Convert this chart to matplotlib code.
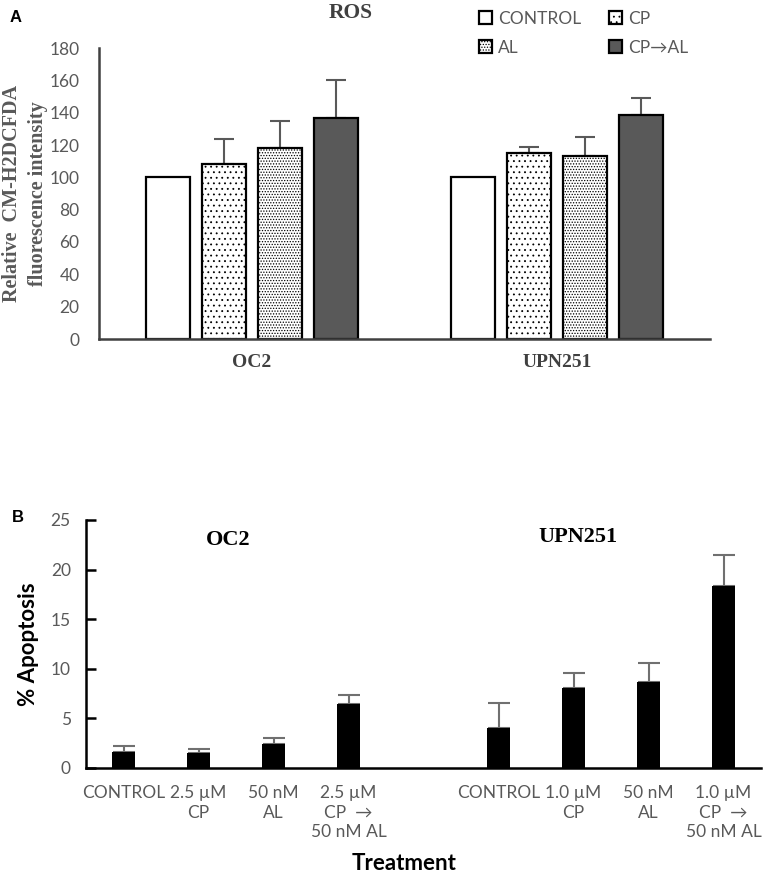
import matplotlib
matplotlib.use("Agg")
import matplotlib.pyplot as plt
import numpy as np

# ---------------- Data ----------------
# Panel A: ROS
ros_cells = ["OC2", "UPN251"]
ros_series = ["CONTROL", "CP", "AL", "CP\u2192AL"]
ros_control = [100, 100]
ros_cp = [108, 115]
ros_al = [118, 113]
ros_cpal = [137, 138.5]
ros_cp_err = [16, 4]
ros_al_err = [17, 12]
ros_cpal_err = [23, 10.5]
ros_control_err = [0, 0]
ros_yticks = [0, 20, 40, 60, 80, 100, 120, 140, 160, 180]

# Panel B: Apoptosis
apo_labels = ["CONTROL", "2.5 \u00b5M\nCP", "50 nM\nAL", "2.5 \u00b5M\nCP  \u2192\n50 nM AL",
              "",
              "CONTROL", "1.0 \u00b5M\nCP", "50 nM\nAL", "1.0 \u00b5M\nCP  \u2192\n50 nM AL"]
apo_values = [1.6, 1.5, 2.4, 6.45, None, 4.05, 8.05, 8.7, 18.3]
apo_err = [0.6, 0.4, 0.6, 0.9, None, 2.55, 1.55, 1.9, 3.2]
apo_groups = ["OC2", "UPN251"]
apo_yticks = [0, 5, 10, 15, 20, 25]

SANS = ["Lato", "DejaVu Sans"]
SERIF = ["Liberation Serif", "DejaVu Serif"]
GRAY = "#595959"

plt.rcParams["hatch.linewidth"] = 0.6

fig = plt.figure(figsize=(7.65, 8.75), dpi=100)

# ---------------- Panel A ----------------
axA = fig.add_axes([99/765, 1-339/875, (710-99)/765, (339-48)/875])
x = np.arange(len(ros_cells))
slot = 0.183
bw = 0.144
series_vals = [ros_control, ros_cp, ros_al, ros_cpal]
series_err = [ros_control_err, ros_cp_err, ros_al_err, ros_cpal_err]
faces = ["white", "white", "white", "#595959"]
hatches = [None, "...", "......", None]
handles = []
for i, (vals, errs) in enumerate(zip(series_vals, series_err)):
    pos = x + (i - 1.5) * slot
    b = axA.bar(pos, vals, width=bw, color=faces[i], edgecolor="black",
                linewidth=1.6, hatch=hatches[i], label=ros_series[i], zorder=2)
    handles.append(b)
    errs_arr = np.array(errs, dtype=float)
    mask = errs_arr > 0
    axA.errorbar(pos[mask], np.array(vals)[mask], yerr=[np.zeros(mask.sum()), errs_arr[mask]],
                 fmt="none", ecolor=GRAY, elinewidth=1.5, capsize=7, capthick=1.5, zorder=1)
axA.set_xlim(-0.5, 1.5)
axA.set_ylim(0, 180)
axA.set_yticks(ros_yticks)
axA.set_yticklabels([str(t) for t in ros_yticks], fontsize=12.5, color=GRAY, family=SANS)
axA.set_xticks(x)
axA.set_xticklabels(ros_cells, fontsize=14, fontweight="bold", color="#404040", family=SERIF)
axA.tick_params(axis="y", length=0, pad=14)
axA.tick_params(axis="x", length=0, pad=11)
for s in ["top", "right"]:
    axA.spines[s].set_visible(False)
for s in ["left", "bottom"]:
    axA.spines[s].set_linewidth(1.8)
    axA.spines[s].set_color("#404040")
fig.text(25/765, 1-194/875, "Relative  CM-H2DCFDA\nfluorescence intensity", rotation=90,
         ha="center", va="center", fontsize=14.5, fontweight="bold", color=GRAY,
         family=SERIF, linespacing=1.4)
fig.text(351/765, 1-13/875, "ROS", ha="center", va="center", fontsize=15.5,
         fontweight="bold", color="#404040", family=SERIF)
fig.text(10/765, 1-18/875, "A", ha="left", va="center", fontsize=12,
         fontweight="bold", family=["Liberation Sans", "DejaVu Sans"])
leg = fig.legend([handles[0], handles[2], handles[1], handles[3]],
                 [ros_series[0], ros_series[2], ros_series[1], ros_series[3]],
                 ncol=2, loc="upper left", bbox_to_anchor=(463/765, 1+5/875),
                 frameon=False, handlelength=0.75, handleheight=0.75, handletextpad=0.35,
                 columnspacing=1.6, labelspacing=0.75,
                 prop={"family": SANS, "size": 12.5})
for t in leg.get_texts():
    t.set_color(GRAY)

# ---------------- Panel B ----------------
axB = fig.add_axes([86/765, 1-768/875, (761-86)/765, (768-520)/875])
xb = np.arange(len(apo_labels))
idx = [i for i, v in enumerate(apo_values) if v is not None]
vals_b = np.array([apo_values[i] for i in idx])
errs_b = np.array([apo_err[i] for i in idx])
axB.bar(xb[idx], vals_b, width=0.31, color="black", zorder=2)
axB.errorbar(xb[idx], vals_b, yerr=[np.zeros(len(idx)), errs_b], fmt="none",
             ecolor="#707070", elinewidth=1.5, capsize=8, capthick=1.5, zorder=1)
axB.set_xlim(-0.5, len(apo_labels) - 0.5)
axB.set_ylim(0, 25)
axB.set_yticks(apo_yticks)
axB.set_yticklabels([str(t) for t in apo_yticks], fontsize=12.5, color=GRAY, family=SANS)
axB.set_xticks(xb[idx])
axB.set_xticklabels([apo_labels[i] for i in idx], fontsize=12.5, color=GRAY, family=SANS,
                    linespacing=1.3, va="top")
axB.tick_params(axis="x", length=0, pad=12)
axB.tick_params(axis="y", direction="in", length=7, width=1.8, pad=11)
for s in ["top", "right"]:
    axB.spines[s].set_visible(False)
for s in ["left", "bottom"]:
    axB.spines[s].set_linewidth(1.8)
    axB.spines[s].set_color("black")
axB.set_ylabel("% Apoptosis", fontsize=16, fontweight="bold", family=SANS, labelpad=8)
fig.text(404/765, 1-864/875, "Treatment", ha="center", va="center", fontsize=16,
         fontweight="bold", family=SANS)
axB.text(1.4, 23.0, apo_groups[0], ha="center", va="center", fontsize=16,
         fontweight="bold", family=SERIF)
axB.text(6.06, 23.3, apo_groups[1], ha="center", va="center", fontsize=16,
         fontweight="bold", family=SERIF)
fig.text(18/765, 1-517/875, "B", ha="center", va="center", fontsize=12,
         fontweight="bold", family=["Liberation Sans", "DejaVu Sans"])

fig.savefig("out.png", dpi=100)
